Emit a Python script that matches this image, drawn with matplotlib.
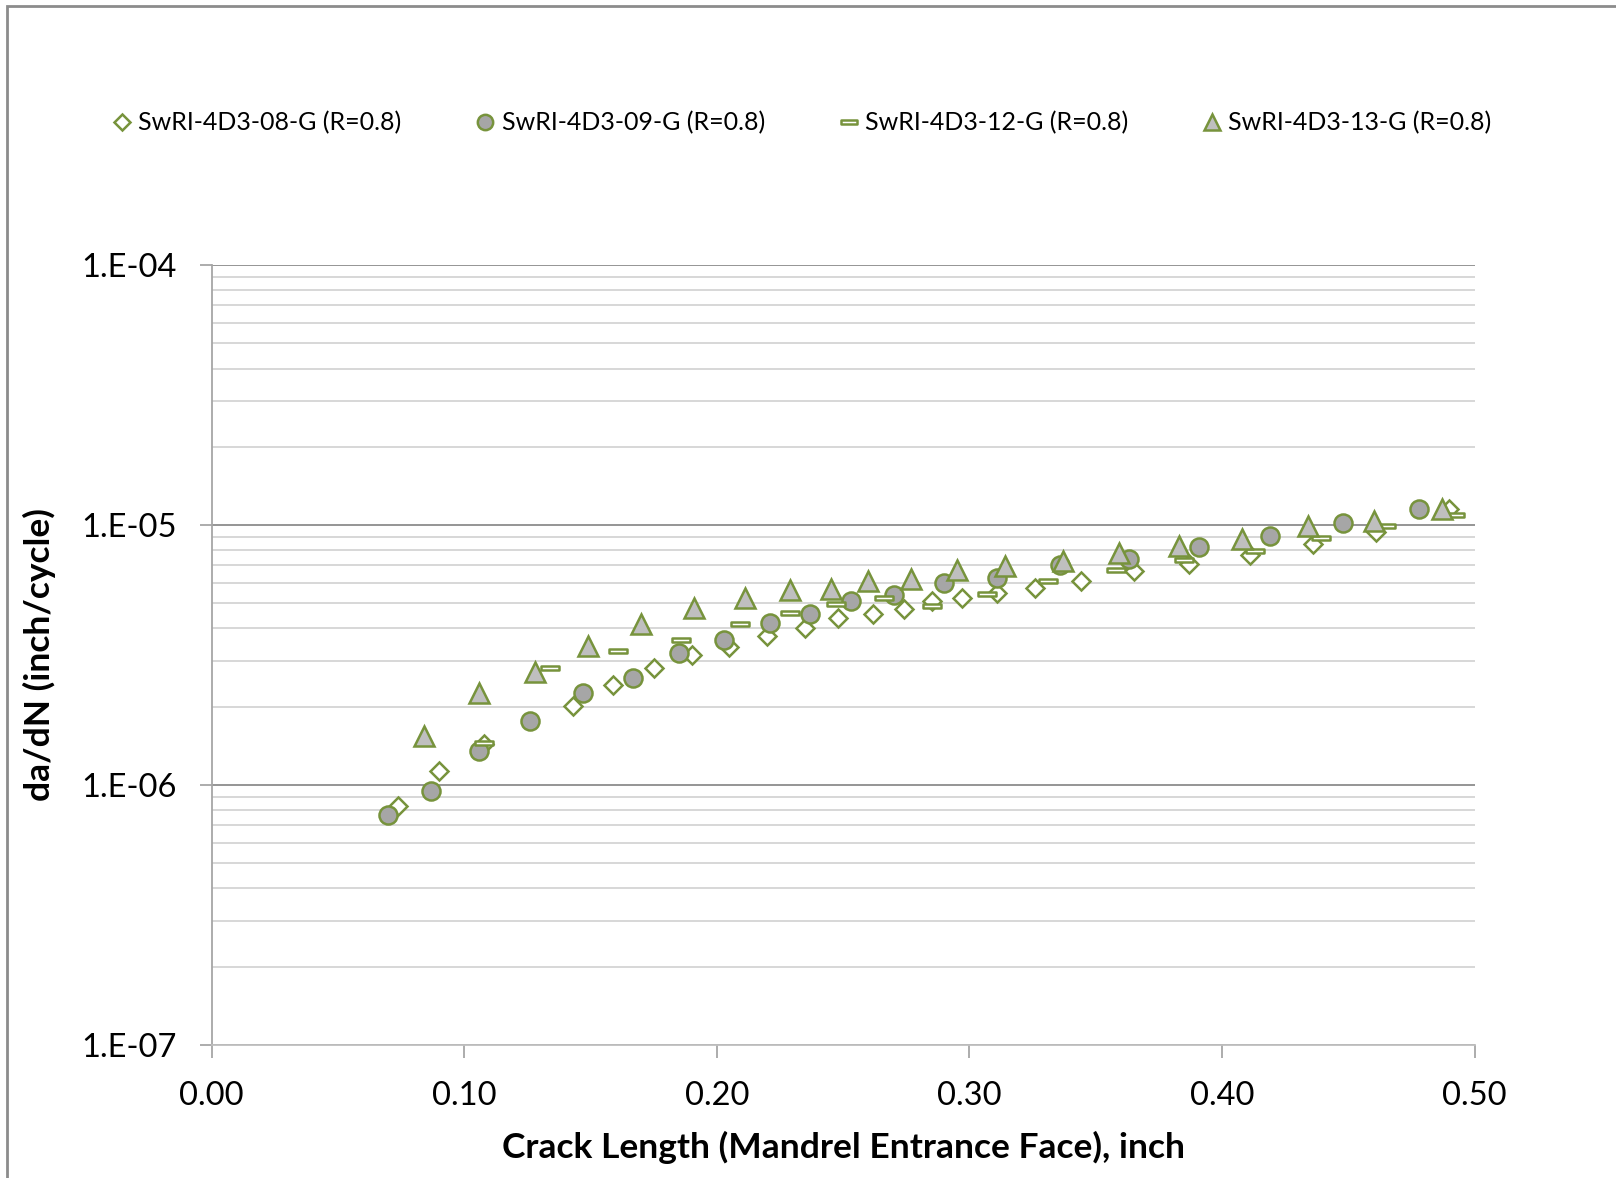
import numpy as np
import matplotlib.pyplot as plt
from matplotlib.path import Path
from matplotlib.patches import Rectangle
from matplotlib.ticker import LogLocator, FixedLocator, NullFormatter

plt.rcParams['font.family'] = ['Lato', 'DejaVu Sans']

# crack length (inch) and da/dN (inch/cycle)
s08_x = [0.074, 0.090, 0.108, 0.143, 0.159, 0.175, 0.190, 0.205, 0.220, 0.235, 0.248, 0.262,
         0.274, 0.285, 0.297, 0.311, 0.326, 0.344, 0.365, 0.387, 0.411, 0.436, 0.461, 0.490]
s08_y = [8.28e-7, 1.13e-6, 1.44e-6, 2.01e-6, 2.42e-6, 2.83e-6, 3.17e-6, 3.39e-6, 3.73e-6, 4.01e-6,
         4.39e-6, 4.56e-6, 4.74e-6, 5.10e-6, 5.24e-6, 5.47e-6, 5.74e-6, 6.07e-6, 6.64e-6, 7.10e-6,
         7.64e-6, 8.48e-6, 9.40e-6, 1.156e-5]

s09_x = [0.070, 0.087, 0.106, 0.126, 0.147, 0.167, 0.185, 0.203, 0.221, 0.237, 0.253, 0.270,
         0.290, 0.311, 0.336, 0.363, 0.391, 0.419, 0.448, 0.478]
s09_y = [7.67e-7, 9.51e-7, 1.35e-6, 1.76e-6, 2.26e-6, 2.59e-6, 3.23e-6, 3.62e-6, 4.21e-6, 4.53e-6,
         5.12e-6, 5.36e-6, 5.98e-6, 6.25e-6, 7.04e-6, 7.42e-6, 8.23e-6, 9.07e-6, 1.018e-5, 1.156e-5]

s12_x = [0.108, 0.134, 0.161, 0.186, 0.209, 0.229, 0.247, 0.266, 0.285, 0.307, 0.331, 0.358,
         0.385, 0.413, 0.439, 0.465, 0.492]
s12_y = [1.45e-6, 2.81e-6, 3.27e-6, 3.62e-6, 4.17e-6, 4.58e-6, 4.96e-6, 5.25e-6, 4.88e-6, 5.44e-6,
         6.07e-6, 6.73e-6, 7.36e-6, 7.92e-6, 8.94e-6, 9.89e-6, 1.096e-5]

s13_x = [0.084, 0.106, 0.128, 0.149, 0.170, 0.191, 0.211, 0.229, 0.245, 0.260, 0.277, 0.295,
         0.314, 0.337, 0.359, 0.383, 0.408, 0.434, 0.460, 0.487]
s13_y = [1.54e-6, 2.25e-6, 2.73e-6, 3.43e-6, 4.15e-6, 4.79e-6, 5.25e-6, 5.64e-6, 5.69e-6, 6.07e-6,
         6.19e-6, 6.73e-6, 6.95e-6, 7.27e-6, 7.80e-6, 8.30e-6, 8.87e-6, 9.89e-6, 1.036e-5, 1.156e-5]

labels = ['SwRI-4D3-08-G (R=0.8)', 'SwRI-4D3-09-G (R=0.8)',
          'SwRI-4D3-12-G (R=0.8)', 'SwRI-4D3-13-G (R=0.8)']
x_ticks = [0.0, 0.1, 0.2, 0.3, 0.4, 0.5]
y_ticks = [1e-7, 1e-6, 1e-5, 1e-4]
y_ticklabels = ['1.E-07', '1.E-06', '1.E-05', '1.E-04']

green = '#77933C'
dash = Path([(-1, -0.25), (1, -0.25), (1, 0.25), (-1, 0.25), (-1, -0.25)],
            [Path.MOVETO, Path.LINETO, Path.LINETO, Path.LINETO, Path.CLOSEPOLY])

fig = plt.figure(figsize=(16.16, 11.78), dpi=100)
ax = fig.add_axes([0.1309, 0.1129, 0.7817, 0.6621])

ax.plot(s08_x, s08_y, ls='none', marker='D', ms=9, mfc='white', mec=green, mew=1.8, label=labels[0])
ax.plot(s09_x, s09_y, ls='none', marker='o', ms=13, mfc='#A6A6A6', mec=green, mew=1.8, label=labels[1])
ax.plot(s12_x, s12_y, ls='none', marker=dash, ms=13, mfc='white', mec=green, mew=1.8, label=labels[2])
ax.plot(s13_x, s13_y, ls='none', marker='^', ms=14, mfc='#BFBFBF', mec=green, mew=1.8, label=labels[3])

ax.set_yscale('log')
ax.set_xlim(0, 0.5)
ax.set_ylim(1e-7, 1e-4)
ax.xaxis.set_major_locator(FixedLocator(x_ticks))
ax.set_xticklabels(['%.2f' % v for v in x_ticks])
ax.yaxis.set_major_locator(FixedLocator(y_ticks))
ax.set_yticklabels(y_ticklabels)
ax.yaxis.set_minor_locator(LogLocator(base=10, subs=np.arange(2, 10)))
ax.yaxis.set_minor_formatter(NullFormatter())

ax.grid(True, which='major', axis='y', color='#8C8C8C', lw=1.3)
ax.grid(True, which='minor', axis='y', color='#D4D4D4', lw=1.3)
ax.set_axisbelow(True)

for s in ['top', 'right']:
    ax.spines[s].set_visible(False)
ax.spines['left'].set_color('#A6A6A6')
ax.spines['bottom'].set_color('#BFBFBF')
ax.spines['left'].set_linewidth(1.3)
ax.spines['bottom'].set_linewidth(1.3)

ax.tick_params(axis='both', which='major', direction='out', length=9, width=1.3,
               color='#A6A6A6', labelsize=23.5, labelcolor='#000000')
ax.tick_params(axis='x', pad=17)
ax.tick_params(axis='y', pad=16)
ax.tick_params(axis='y', which='minor', length=0)

ax.set_xlabel('Crack Length (Mandrel Entrance Face), inch', fontsize=25.5, fontweight='bold', labelpad=14)
ax.set_ylabel('da/dN (inch/cycle)', fontsize=25.5, fontweight='bold', labelpad=18)

fig.legend(loc='center left', bbox_to_anchor=(0.0694, 0.8956), ncol=4, frameon=False,
           fontsize=18, handlelength=0.8, handletextpad=0.25, columnspacing=2.95,
           borderpad=0, borderaxespad=0, markerscale=0.85)

fig.patches.append(Rectangle((7 / 1616, -0.1), 1.2, 1.1 - 6 / 1178, transform=fig.transFigure,
                             fill=False, ec='#8C8C8C', lw=2))

fig.savefig('out.png', dpi=100)
